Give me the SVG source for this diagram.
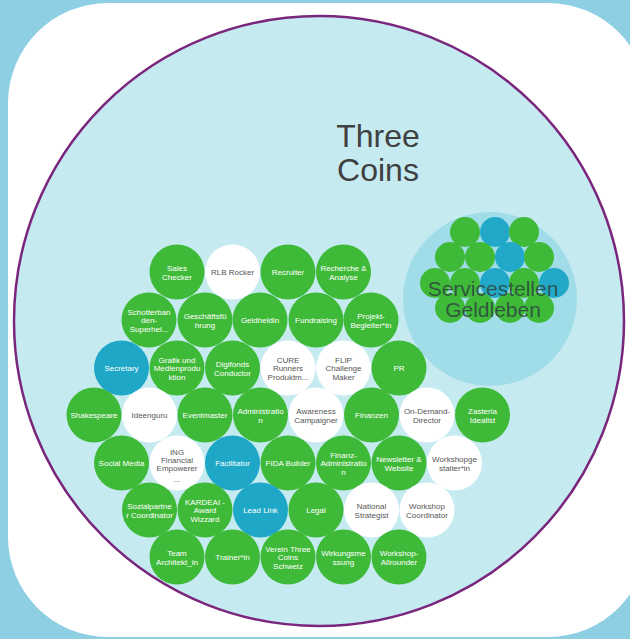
<svg xmlns="http://www.w3.org/2000/svg" width="630" height="639" viewBox="0 0 630 639">
<style>
.g{fill:#3fba38}
.b{fill:#1ea7c6}
.w{fill:#ffffff}
.t{font-family:"Liberation Sans",Arial,sans-serif;font-size:8px;text-anchor:middle;fill:#ffffff}
.tw{font-family:"Liberation Sans",Arial,sans-serif;font-size:8px;text-anchor:middle;fill:#555555}
.sg{fill:#3fba38}
.sb{fill:#22a9c9}
</style>
<rect x="0" y="0" width="630" height="639" fill="#8fcfe3"/>
<rect x="8" y="3" width="640" height="634" rx="100" ry="100" fill="#ffffff"/>
<g id="three-coins">
<circle cx="319" cy="321" r="305" fill="#c5ebf1" stroke="#7a267c" stroke-width="2.5"/>
<text x="378" y="147" font-family="'Liberation Sans',Arial,sans-serif" font-size="32" fill="#404040" text-anchor="middle">Three</text>
<text x="378" y="181" font-family="'Liberation Sans',Arial,sans-serif" font-size="32" fill="#404040" text-anchor="middle">Coins</text>
</g>
<g id="servicestellen">
<circle cx="490" cy="299" r="87" fill="#a0dde9"/>
<circle class="sg" cx="465" cy="232" r="15"/><circle class="sb" cx="495" cy="232" r="15"/><circle class="sg" cx="524" cy="232" r="15"/>
<circle class="sg" cx="450" cy="257" r="15"/><circle class="sg" cx="480" cy="257" r="15"/><circle class="sb" cx="510" cy="257" r="15"/><circle class="sg" cx="539" cy="257" r="15"/>
<circle class="sg" cx="435" cy="283" r="15"/><circle class="sg" cx="465" cy="283" r="15"/><circle class="sb" cx="495" cy="283" r="15"/><circle class="sg" cx="524" cy="283" r="15"/><circle class="sb" cx="554" cy="283" r="15"/>
<circle class="sg" cx="450" cy="308" r="15"/><circle class="sg" cx="480" cy="308" r="15"/><circle class="sg" cx="510" cy="308" r="15"/><circle class="sg" cx="539" cy="308" r="15"/>
<text x="493" y="296" font-family="'Liberation Sans',Arial,sans-serif" font-size="21" fill="#2e4a3e" text-anchor="middle" fill-opacity="0.9">Servicestellen</text>
<text x="493" y="317" font-family="'Liberation Sans',Arial,sans-serif" font-size="21" fill="#2e4a3e" text-anchor="middle" fill-opacity="0.9">Geldleben</text>
</g>
<g id="connectors"/>
<g id="sales-checker"><circle class="g" cx="177" cy="272" r="27.5"/><text class="t" x="177" y="271">Sales</text><text class="t" x="177" y="279.5">Checker</text></g>
<g id="rlb-rocker"><circle class="w" cx="232.5" cy="272" r="27.5"/><text class="tw" x="232.5" y="275">RLB Rocker</text></g>
<g id="recruiter"><circle class="g" cx="288" cy="272" r="27.5"/><text class="t" x="288" y="275">Recruiter</text></g>
<g id="recherche"><circle class="g" cx="343.5" cy="272" r="27.5"/><text class="t" x="343.5" y="271">Recherche &amp;</text><text class="t" x="343.5" y="279.5">Analyse</text></g>
<g id="schotterbanden"><circle class="g" cx="149" cy="320" r="27.5"/><text class="t" x="149" y="314.5">Schotterban</text><text class="t" x="149" y="323">den-</text><text class="t" x="149" y="331.5">Superhel...</text></g>
<g id="geschaeftsfuehrung"><circle class="g" cx="205" cy="320" r="27.5"/><text class="t" x="205" y="319">Geschäftsfü</text><text class="t" x="205" y="327.5">hrung</text></g>
<g id="geldheldin"><circle class="g" cx="260" cy="320" r="27.5"/><text class="t" x="260" y="323">Geldheldin</text></g>
<g id="fundraising"><circle class="g" cx="316" cy="320" r="27.5"/><text class="t" x="316" y="323">Fundraising</text></g>
<g id="projekt-begleiter"><circle class="g" cx="371" cy="320" r="27.5"/><text class="t" x="371" y="319">Projekt-</text><text class="t" x="371" y="327.5">Begleiter*in</text></g>
<g id="secretary"><circle class="b" cx="121.5" cy="368" r="27.5"/><text class="t" x="121.5" y="371">Secretary</text></g>
<g id="grafik"><circle class="g" cx="177" cy="368" r="27.5"/><text class="t" x="177" y="362.5">Grafik und</text><text class="t" x="177" y="371">Medienprodu</text><text class="t" x="177" y="379.5">ktion</text></g>
<g id="digifonds"><circle class="g" cx="232.5" cy="368" r="27.5"/><text class="t" x="232.5" y="367">Digifonds</text><text class="t" x="232.5" y="375.5">Conductor</text></g>
<g id="cure"><circle class="w" cx="288" cy="368" r="27.5"/><text class="tw" x="288" y="362.5">CURE</text><text class="tw" x="288" y="371">Runners</text><text class="tw" x="288" y="379.5">Produktm...</text></g>
<g id="flip"><circle class="w" cx="343.5" cy="368" r="27.5"/><text class="tw" x="343.5" y="362.5">FLIP</text><text class="tw" x="343.5" y="371">Challenge</text><text class="tw" x="343.5" y="379.5">Maker</text></g>
<g id="pr"><circle class="g" cx="399" cy="368" r="27.5"/><text class="t" x="399" y="371">PR</text></g>
<g id="shakespeare"><circle class="g" cx="94" cy="415" r="27.5"/><text class="t" x="94" y="418">Shakespeare</text></g>
<g id="ideenguru"><circle class="w" cx="149.5" cy="415" r="27.5"/><text class="tw" x="149.5" y="418">Ideenguru</text></g>
<g id="eventmaster"><circle class="g" cx="205" cy="415" r="27.5"/><text class="t" x="205" y="418">Eventmaster</text></g>
<g id="administration"><circle class="g" cx="260.5" cy="415" r="27.5"/><text class="t" x="260.5" y="414">Administratio</text><text class="t" x="260.5" y="422.5">n</text></g>
<g id="awareness"><circle class="w" cx="316" cy="415" r="27.5"/><text class="tw" x="316" y="414">Awareness</text><text class="tw" x="316" y="422.5">Campaigner</text></g>
<g id="finanzen"><circle class="g" cx="371.5" cy="415" r="27.5"/><text class="t" x="371.5" y="418">Finanzen</text></g>
<g id="on-demand"><circle class="w" cx="427" cy="415" r="27.5"/><text class="tw" x="427" y="414">On-Demand-</text><text class="tw" x="427" y="422.5">Director</text></g>
<g id="zasteria"><circle class="g" cx="482.5" cy="415" r="27.5"/><text class="t" x="482.5" y="414">Zasteria</text><text class="t" x="482.5" y="422.5">Idealist</text></g>
<g id="social-media"><circle class="g" cx="121.5" cy="463" r="27.5"/><text class="t" x="121.5" y="466">Social Media</text></g>
<g id="ing"><circle class="w" cx="177" cy="463" r="27.5"/><text class="tw" x="177" y="455">ING</text><text class="tw" x="177" y="463">Financial</text><text class="tw" x="177" y="471">Empowerer</text><text class="tw" x="177" y="482" font-size="6">...</text></g>
<g id="facilitator"><circle class="b" cx="232.5" cy="463" r="27.5"/><text class="t" x="232.5" y="466">Facilitator</text></g>
<g id="fida-builder"><circle class="g" cx="288" cy="463" r="27.5"/><text class="t" x="288" y="466">FIDA Builder</text></g>
<g id="finanz-administration"><circle class="g" cx="343.5" cy="463" r="27.5"/><text class="t" x="343.5" y="457.5">Finanz-</text><text class="t" x="343.5" y="466">Administratio</text><text class="t" x="343.5" y="474.5">n</text></g>
<g id="newsletter"><circle class="g" cx="399" cy="463" r="27.5"/><text class="t" x="399" y="462">Newsletter &amp;</text><text class="t" x="399" y="470.5">Website</text></g>
<g id="workshopgestalter"><circle class="w" cx="454.5" cy="463" r="27.5"/><text class="tw" x="454.5" y="462">Workshopge</text><text class="tw" x="454.5" y="470.5">stalter*in</text></g>
<g id="sozialpartner"><circle class="g" cx="149.5" cy="510" r="27.5"/><text class="t" x="149.5" y="509">Sozialpartne</text><text class="t" x="149.5" y="517.5">r Coordinator</text></g>
<g id="kardeai"><circle class="g" cx="205" cy="510" r="27.5"/><text class="t" x="205" y="504.5">KARDEAI -</text><text class="t" x="205" y="513">Award</text><text class="t" x="205" y="521.5">Wizzard</text></g>
<g id="lead-link"><circle class="b" cx="260.5" cy="510" r="27.5"/><text class="t" x="260.5" y="513">Lead Link</text></g>
<g id="legal"><circle class="g" cx="316" cy="510" r="27.5"/><text class="t" x="316" y="513">Legal</text></g>
<g id="national-strategist"><circle class="w" cx="371.5" cy="510" r="27.5"/><text class="tw" x="371.5" y="509">National</text><text class="tw" x="371.5" y="517.5">Strategist</text></g>
<g id="workshop-coordinator"><circle class="w" cx="427" cy="510" r="27.5"/><text class="tw" x="427" y="509">Workshop</text><text class="tw" x="427" y="517.5">Coordinator</text></g>
<g id="team-architekt"><circle class="g" cx="177" cy="557" r="27.5"/><text class="t" x="177" y="556">Team</text><text class="t" x="177" y="564.5">Architekt_in</text></g>
<g id="trainer"><circle class="g" cx="232.5" cy="557" r="27.5"/><text class="t" x="232.5" y="560">Trainer*in</text></g>
<g id="verein"><circle class="g" cx="288" cy="557" r="27.5"/><text class="t" x="288" y="551.5">Verein Three</text><text class="t" x="288" y="560">Coins</text><text class="t" x="288" y="568.5">Schweiz</text></g>
<g id="wirkungsmessung"><circle class="g" cx="343.5" cy="557" r="27.5"/><text class="t" x="343.5" y="556">Wirkungsme</text><text class="t" x="343.5" y="564.5">ssung</text></g>
<g id="workshop-allrounder"><circle class="g" cx="399" cy="557" r="27.5"/><text class="t" x="399" y="556">Workshop-</text><text class="t" x="399" y="564.5">Allrounder</text></g>
</svg>
